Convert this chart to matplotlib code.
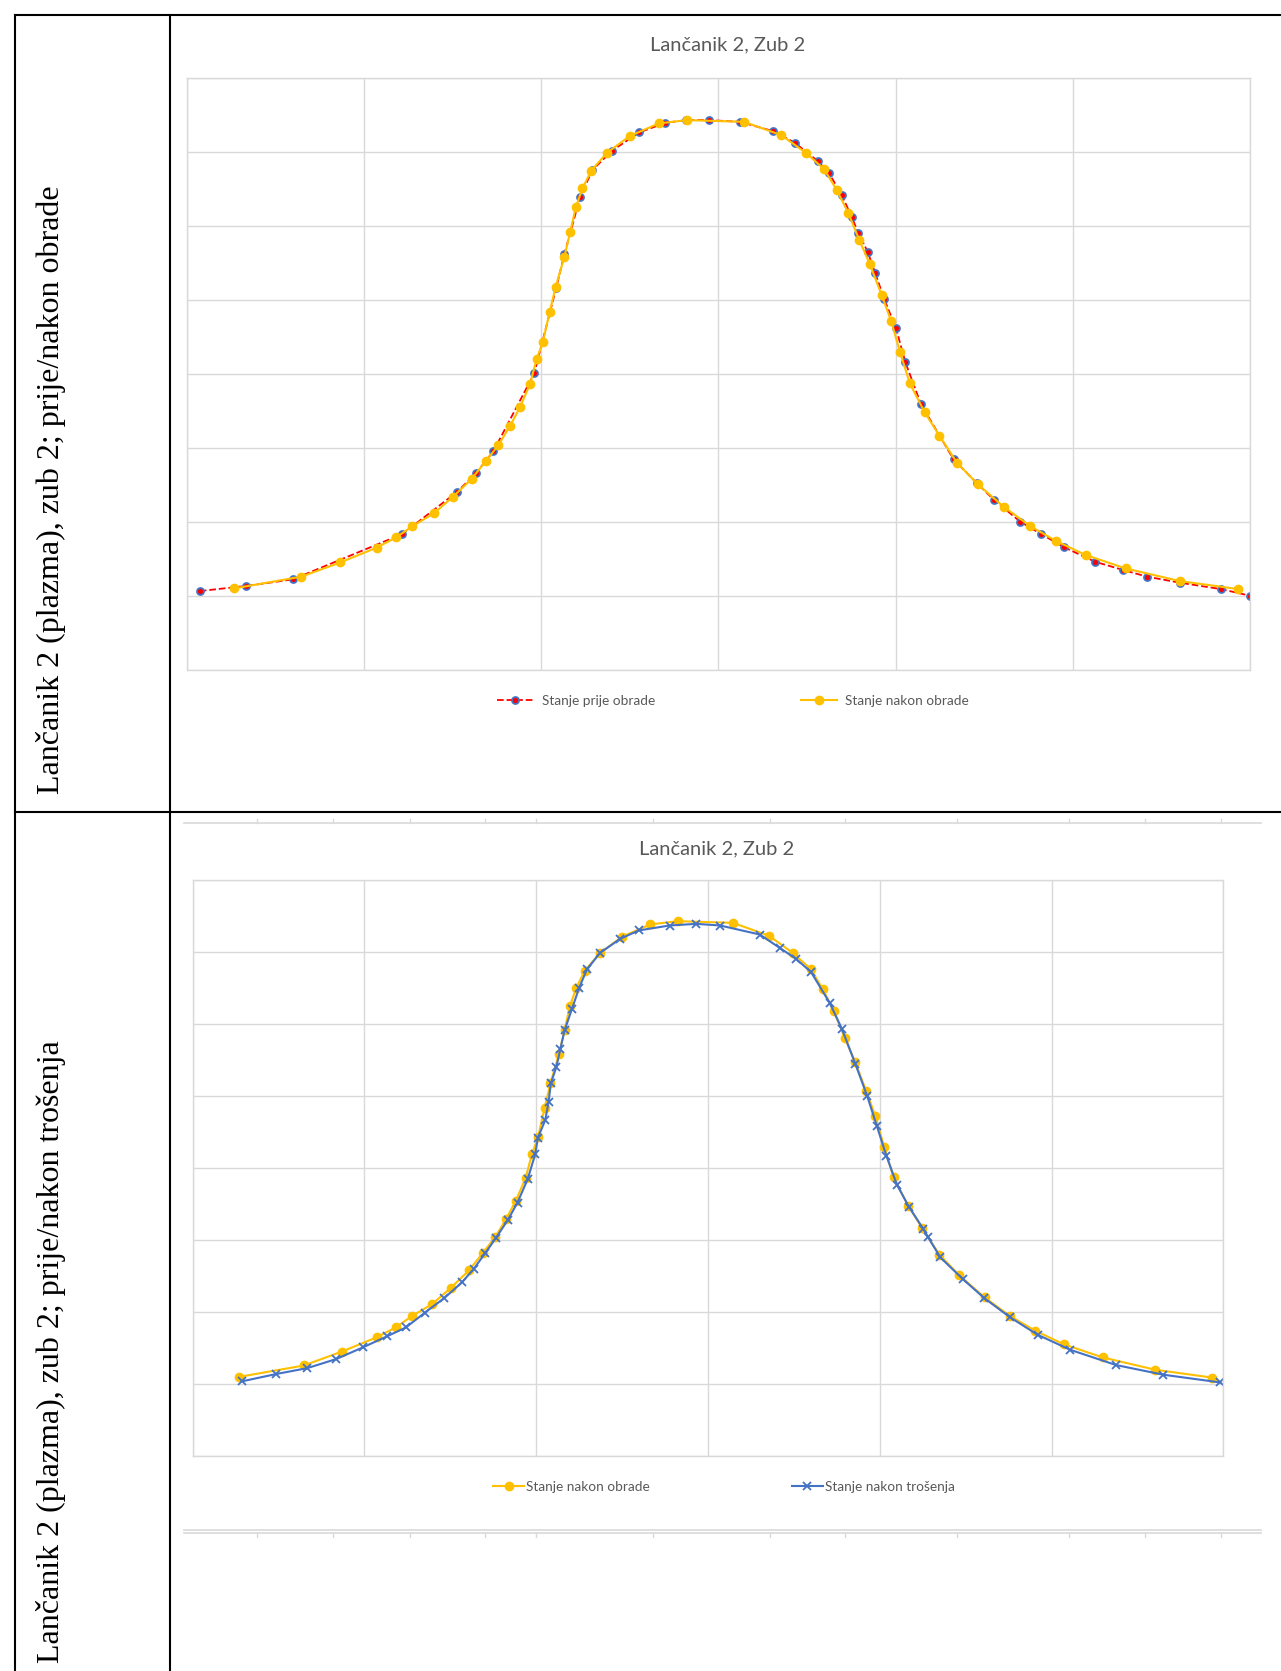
import matplotlib.pyplot as plt
from matplotlib.lines import Line2D

W, H = 1281, 1671

# points (grid units: 6 columns x 8 rows, no axis labels)
prije_x = [0.075, 0.334, 0.600, 1.217, 1.528, 1.632, 1.732, 1.962, 2.085, 2.132,
           2.221, 2.290, 2.400, 2.554, 2.701, 2.820, 2.950, 3.122, 3.309, 3.432,
           3.560, 3.626, 3.697, 3.754, 3.790, 3.843, 3.885, 3.937, 4.003, 4.056,
           4.144, 4.328, 4.460, 4.557, 4.704, 4.822, 4.953, 5.126, 5.285, 5.420,
           5.604, 5.835, 6.000]
prije_y = [1.063, 1.131, 1.221, 1.833, 2.405, 2.653, 2.955, 4.005, 5.153, 5.617,
           6.392, 6.752, 7.014, 7.261, 7.392, 7.428, 7.428, 7.405, 7.279, 7.122,
           6.878, 6.707, 6.414, 6.113, 5.905, 5.649, 5.365, 5.005, 4.613, 4.153,
           3.586, 2.842, 2.518, 2.293, 2.000, 1.833, 1.653, 1.459, 1.347, 1.257,
           1.176, 1.090, 1.000]

nakon_x = [0.270, 0.647, 0.868, 1.072, 1.183, 1.275, 1.396, 1.504, 1.608, 1.689,
           1.760, 1.825, 1.881, 1.938, 1.975, 2.011, 2.049, 2.083, 2.132, 2.165,
           2.196, 2.234, 2.283, 2.372, 2.500, 2.664, 2.824, 3.145, 3.356, 3.494,
           3.597, 3.669, 3.733, 3.796, 3.856, 3.922, 3.975, 4.026, 4.081, 4.165,
           4.248, 4.347, 4.463, 4.610, 4.760, 4.906, 5.073, 5.298, 5.604, 5.932]
nakon_y = [1.099, 1.257, 1.450, 1.649, 1.788, 1.941, 2.113, 2.338, 2.577, 2.820,
           3.036, 3.293, 3.545, 3.860, 4.194, 4.432, 4.838, 5.176, 5.581, 5.919,
           6.248, 6.505, 6.743, 6.986, 7.212, 7.383, 7.428, 7.405, 7.225, 6.986,
           6.766, 6.482, 6.176, 5.806, 5.477, 5.063, 4.716, 4.288, 3.869, 3.477,
           3.162, 2.797, 2.509, 2.203, 1.941, 1.739, 1.550, 1.369, 1.198, 1.090]

trosenje_x = [0.285, 0.485, 0.668, 0.835, 0.990, 1.130, 1.241, 1.353, 1.464, 1.567,
              1.635, 1.703, 1.767, 1.835, 1.891, 1.950, 1.994, 2.010, 2.052, 2.072,
              2.085, 2.117, 2.140, 2.165, 2.207, 2.250, 2.295, 2.372, 2.489, 2.596,
              2.776, 2.932, 3.071, 3.301, 3.417, 3.512, 3.600, 3.708, 3.780, 3.858,
              3.926, 3.983, 4.038, 4.100, 4.169, 4.252, 4.279, 4.353, 4.484, 4.609,
              4.760, 4.919, 5.109, 5.376, 5.651, 5.981]
trosenje_y = [1.036, 1.138, 1.221, 1.346, 1.508, 1.661, 1.785, 1.993, 2.192, 2.410,
              2.595, 2.817, 3.034, 3.279, 3.520, 3.844, 4.191, 4.422, 4.662, 4.917,
              5.176, 5.402, 5.648, 5.911, 6.203, 6.503, 6.758, 6.989, 7.183, 7.299,
              7.368, 7.391, 7.368, 7.243, 7.058, 6.906, 6.721, 6.295, 5.930, 5.445,
              5.005, 4.584, 4.172, 3.767, 3.464, 3.159, 3.048, 2.757, 2.456, 2.192,
              1.924, 1.684, 1.475, 1.263, 1.129, 1.022]

title = 'Lančanik 2, Zub 2'
row_labels = ['Lančanik 2 (plazma), zub 2; prije/nakon obrade',
              'Lančanik 2 (plazma), zub 2; prije/nakon trošenja']

GRID = '#D9D9D9'
TXT = '#595959'
RED = '#FF0000'
YEL = '#FFC000'
BLUE = '#4472C4'


def fx(px):
    return px / W


def fy(py):
    return 1 - py / H


def style_chart(ax):
    ax.set_xlim(0, 6)
    ax.set_ylim(0, 8)
    ax.set_xticks(range(7))
    ax.set_yticks(range(9))
    ax.tick_params(length=0, labelbottom=False, labelleft=False)
    ax.grid(True, color=GRID, lw=1.0)
    ax.set_axisbelow(True)
    for s in ax.spines.values():
        s.set_color(GRID)
        s.set_linewidth(1.0)


fig = plt.figure(figsize=(W / 100, H / 100), dpi=100)


# table borders
def hline(y, x0, x1, color='black', lw=1.5):
    fig.add_artist(Line2D([fx(x0), fx(x1)], [fy(y), fy(y)], color=color, lw=lw))


def vline(x, y0, y1, color='black', lw=1.5):
    fig.add_artist(Line2D([fx(x), fx(x)], [fy(y0), fy(y1)], color=color, lw=lw))


hline(15, 15, W)
hline(812, 15, W)
vline(15, 15, H)
vline(170, 15, H)

# rotated labels in the left column
fig.text(fx(51), fy(794), row_labels[0], rotation=90, ha='center', va='bottom',
         family='Liberation Serif', fontsize=23)
fig.text(fx(51), fy(1663), row_labels[1], rotation=90, ha='center', va='bottom',
         family='Liberation Serif', fontsize=23)

leg_font = {'family': 'Lato', 'size': 9.8}

# top chart
ax1 = fig.add_axes([fx(186.5), fy(669.7), (1250 - 186.5) / W, (669.7 - 77.8) / H])
style_chart(ax1)
ax1.plot(prije_x, prije_y, color=RED, ls='--', lw=1.3, marker='o', ms=5,
         mfc=RED, mec=BLUE, mew=1.3, label='Stanje prije obrade')
ax1.plot(nakon_x, nakon_y, color=YEL, lw=1.5, marker='o', ms=6,
         mfc=YEL, mec=YEL, label='Stanje nakon obrade')
fig.text(fx(728), fy(45), title, ha='center', va='center', color=TXT,
         family='Lato', fontsize=14.5)
fig.legend(*ax1.get_legend_handles_labels(), loc='center', ncol=2,
           bbox_to_anchor=(fx(733), fy(701)), frameon=False,
           prop=leg_font, labelcolor=TXT,
           columnspacing=10.7, handlelength=2.7, handletextpad=0.6)

# bottom chart
ax2 = fig.add_axes([fx(192.7), fy(1456), (1223.3 - 192.7) / W, 576 / H])
style_chart(ax2)
ax2.plot(nakon_x, nakon_y, color=YEL, lw=1.5, marker='o', ms=6,
         mfc=YEL, mec=YEL, label='Stanje nakon obrade')
ax2.plot(trosenje_x, trosenje_y, color=BLUE, lw=1.5, marker='x', ms=6,
         mew=1.3, label='Stanje nakon trošenja')
fig.text(fx(717), fy(849), title, ha='center', va='center', color=TXT,
         family='Lato', fontsize=14.5)
fig.legend(*ax2.get_legend_handles_labels(), loc='center', ncol=2,
           bbox_to_anchor=(fx(724), fy(1487)), frameon=False,
           prop=leg_font, labelcolor=TXT,
           columnspacing=10.4, handlelength=2.3, handletextpad=0.15)

# leftover axis strips from the pasted screenshot
strip_ticks = [257, 333, 410, 485, 536, 653, 770, 845, 957, 1069, 1145, 1221]
hline(822.7, 184, 1261, color=GRID, lw=1.2)
for t in strip_ticks:
    vline(t, 819, 822.7, color=GRID, lw=1.0)
hline(1530, 184, 1261, color=GRID, lw=1.2)
hline(1533.3, 184, 1261, color=GRID, lw=1.2)
for t in strip_ticks:
    vline(t, 1533.3, 1536.5, color=GRID, lw=1.0)

fig.savefig('out.png', dpi=100)
